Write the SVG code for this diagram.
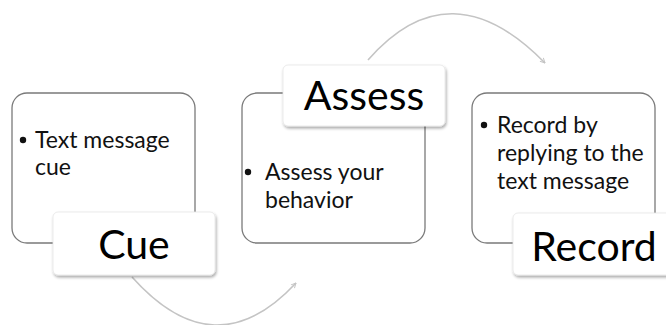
<svg xmlns="http://www.w3.org/2000/svg" width="666" height="325" viewBox="0 0 666 325">
<defs>
<style>
.outer{fill:#fff;stroke:#7a7a7a;stroke-width:1.3}
.lbl{fill:#fff;stroke:#e6e6e6;stroke-width:0.8}
.big{font-family:Lato,"Open Sans",sans-serif;font-size:41px;fill:#000;text-anchor:middle}
.body{font-family:Lato,"Open Sans",sans-serif;font-size:23px;fill:#111}
.arc{fill:none;stroke:#c4c4c4;stroke-width:1.6}
</style>
<filter id="sh" x="-10%" y="-10%" width="125%" height="135%">
<feGaussianBlur in="SourceAlpha" stdDeviation="1.5"/>
<feOffset dx="0.5" dy="1.5" result="b"/>
<feComponentTransfer><feFuncA type="linear" slope="0.35"/></feComponentTransfer>
<feMerge><feMergeNode/><feMergeNode in="SourceGraphic"/></feMerge>
</filter>
<marker id="ah" viewBox="0 0 10 10" refX="9" refY="5" markerWidth="6" markerHeight="6" orient="auto" markerUnits="userSpaceOnUse">
<path d="M1,1 L9,5 L1,9" fill="none" stroke="#c4c4c4" stroke-width="1.6"/>
</marker>
</defs>
<rect width="666" height="325" fill="#fff"/>
<g id="connectors">
<path class="arc" d="M132,277 Q215,370 296,283" marker-end="url(#ah)"/>
<path class="arc" d="M368,60 Q450,-34 545,63" marker-end="url(#ah)"/>
</g>
<g id="cue">
<rect class="outer" x="12" y="93" width="183" height="150" rx="15"/>
<circle cx="23" cy="140" r="3.2" fill="#111"/>
<text class="body" x="35" y="148">Text message</text>
<text class="body" x="35" y="175">cue</text>
<rect class="lbl" x="53" y="212" width="162" height="63" rx="5" filter="url(#sh)"/>
<text class="big" x="134" y="259">Cue</text>
</g>
<g id="assess">
<rect class="outer" x="242" y="93" width="183" height="150" rx="15"/>
<circle cx="248" cy="172" r="3.2" fill="#111"/>
<text class="body" x="265" y="180">Assess your</text>
<text class="body" x="265" y="208">behavior</text>
<rect class="lbl" x="283" y="65" width="162" height="61" rx="5" filter="url(#sh)"/>
<text class="big" x="364" y="110">Assess</text>
</g>
<g id="record">
<rect class="outer" x="472" y="93" width="183" height="150" rx="15"/>
<circle cx="484" cy="125" r="3.2" fill="#111"/>
<text class="body" x="497" y="133">Record by</text>
<text class="body" x="497" y="161">replying to the</text>
<text class="body" x="497" y="189">text message</text>
<rect class="lbl" x="513" y="213" width="170" height="62" rx="5" filter="url(#sh)"/>
<text class="big" x="594" y="261">Record</text>
</g>
</svg>
